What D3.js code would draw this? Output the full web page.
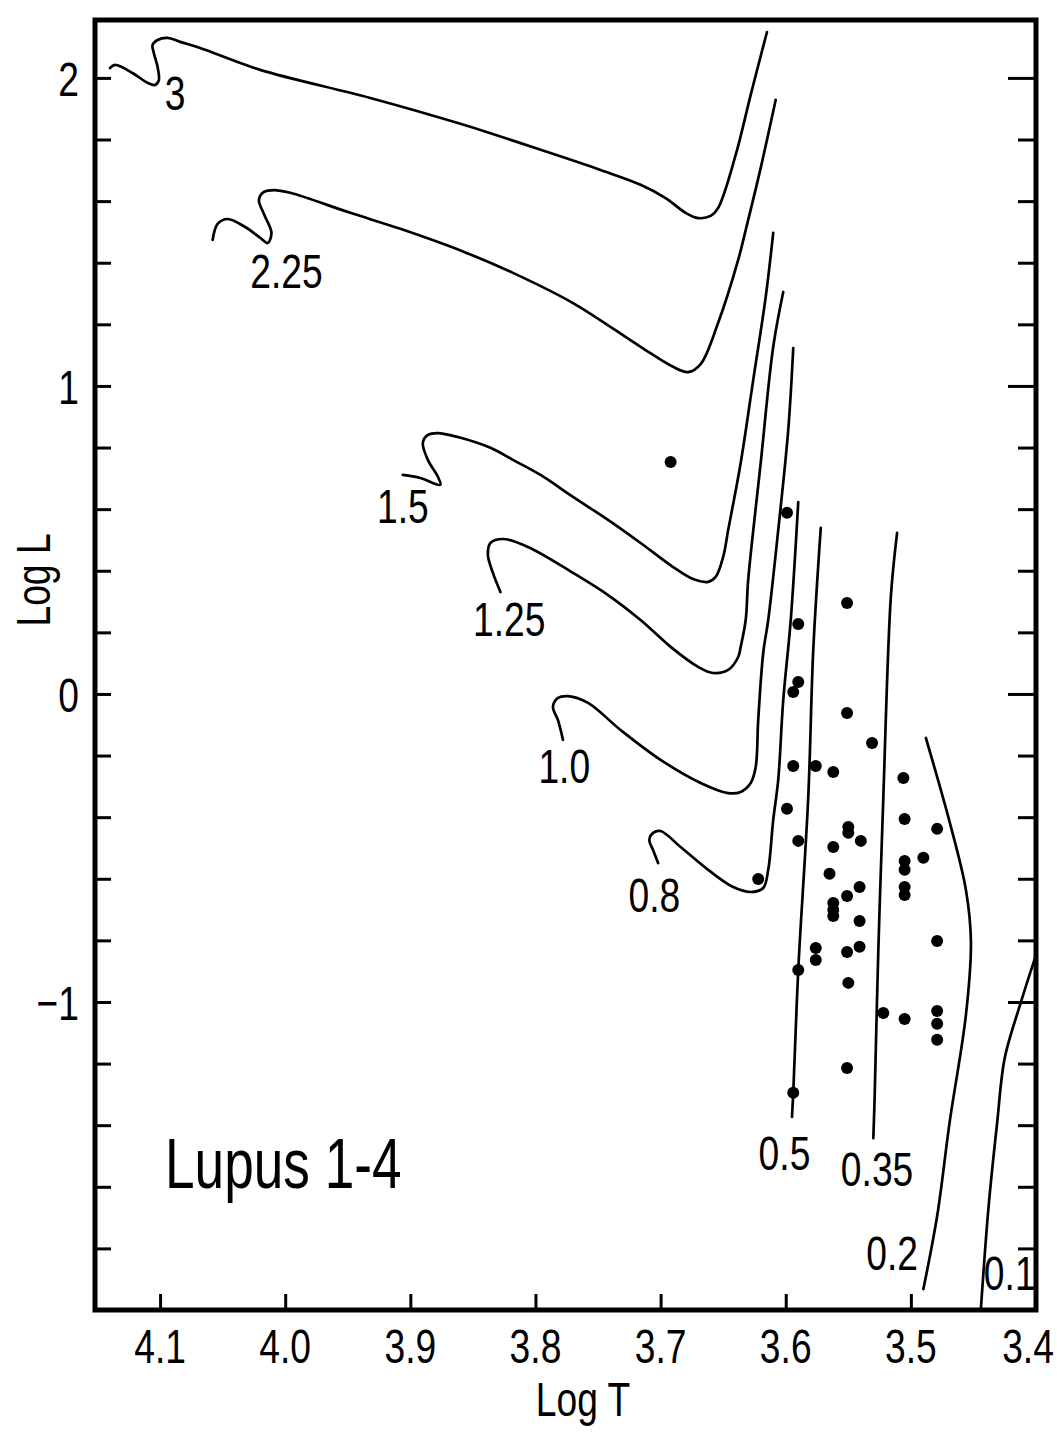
<!DOCTYPE html>
<html><head><meta charset="utf-8">
<script src="https://cdn.jsdelivr.net/npm/d3@7"></script>
<style>html,body{margin:0;padding:0;background:#fff;} svg{display:block;}</style>
</head><body>
<svg id="chart" width="1057" height="1435"></svg>
<script>
// ---------------- DATA (log T, log L) ----------------
const track3 = [[4.140,2.032],[4.136,2.042],[4.122,2.016],[4.110,1.984],[4.104,1.977],[4.101,1.993],[4.102,2.036],[4.105,2.081],[4.106,2.107],[4.102,2.123],[4.094,2.130],[4.084,2.117],[4.068,2.097],[4.020,2.026],[3.932,1.935],[3.860,1.851],[3.788,1.756],[3.748,1.701],[3.716,1.653],[3.696,1.610],[3.680,1.562],[3.670,1.545],[3.660,1.552],[3.654,1.578],[3.640,1.750],[3.628,1.945],[3.615,2.149]];
const track225 = [[4.058,1.474],[4.054,1.526],[4.046,1.542],[4.032,1.516],[4.020,1.481],[4.014,1.464],[4.011,1.497],[4.017,1.558],[4.021,1.604],[4.017,1.630],[4.009,1.636],[3.996,1.627],[3.948,1.562],[3.908,1.510],[3.857,1.435],[3.818,1.367],[3.770,1.269],[3.716,1.127],[3.690,1.062],[3.678,1.045],[3.668,1.071],[3.654,1.205],[3.638,1.409],[3.632,1.506],[3.620,1.708],[3.608,1.929]];
const track15 = [[3.906,0.711],[3.892,0.701],[3.876,0.679],[3.878,0.705],[3.886,0.760],[3.890,0.815],[3.886,0.841],[3.878,0.847],[3.862,0.834],[3.836,0.799],[3.818,0.760],[3.796,0.711],[3.770,0.640],[3.742,0.565],[3.716,0.490],[3.690,0.412],[3.674,0.373],[3.662,0.364],[3.656,0.380],[3.650,0.445],[3.646,0.532],[3.636,0.750],[3.626,1.019],[3.616,1.289],[3.610,1.497]];
const track125 = [[3.828,0.331],[3.834,0.393],[3.838,0.451],[3.836,0.490],[3.826,0.503],[3.806,0.477],[3.770,0.393],[3.742,0.321],[3.716,0.240],[3.692,0.153],[3.670,0.088],[3.658,0.068],[3.646,0.078],[3.638,0.120],[3.636,0.153],[3.632,0.240],[3.630,0.370],[3.620,0.750],[3.610,1.127],[3.602,1.305]];
const track10 = [[3.778,-0.149],[3.782,-0.085],[3.786,-0.042],[3.782,-0.013],[3.774,-0.007],[3.758,-0.029],[3.732,-0.117],[3.700,-0.214],[3.668,-0.289],[3.646,-0.322],[3.636,-0.318],[3.628,-0.289],[3.624,-0.237],[3.622,-0.085],[3.618,0.133],[3.614,0.240],[3.606,0.532],[3.598,0.857],[3.594,1.123]];
const track08 = [[3.702,-0.549],[3.706,-0.507],[3.709,-0.474],[3.706,-0.451],[3.700,-0.445],[3.684,-0.497],[3.662,-0.571],[3.642,-0.627],[3.628,-0.643],[3.618,-0.630],[3.614,-0.571],[3.610,-0.409],[3.606,-0.279],[3.602,-0.020],[3.596,0.240],[3.590,0.623]];
const track05 = [[3.572,0.539],[3.578,0.143],[3.582,-0.334],[3.590,-0.896],[3.594,-1.296],[3.595,-1.373]];
const track035 = [[3.511,0.523],[3.516,0.315],[3.522,-0.334],[3.526,-0.831],[3.529,-1.318],[3.530,-1.442]];
const track02 = [[3.488,-0.143],[3.469,-0.416],[3.456,-0.636],[3.452,-0.805],[3.456,-1.042],[3.469,-1.390],[3.479,-1.695],[3.490,-1.932]];
const track01 = [[3.401,-0.860],[3.412,-1.000],[3.425,-1.182],[3.431,-1.390],[3.438,-1.669],[3.444,-1.994]];
const trackNames = ["3","2.25","1.5","1.25","1.0","0.8","0.5","0.35","0.2","0.1"];

const starLogT = [3.692,3.599,3.551,3.590,3.590,3.594,3.551,3.531,3.594,3.576,3.562,3.506,3.599,3.505,3.479,3.550,3.550,3.540,3.590,3.562,3.490,3.505,3.505,3.565,3.622,3.541,3.505,3.505,3.551,3.562,3.562,3.562,3.541,3.479,3.541,3.551,3.576,3.576,3.590,3.550,3.522,3.505,3.479,3.479,3.479,3.551,3.594];
const starLogL = [0.753,0.588,0.295,0.227,0.039,0.006,-0.062,-0.159,-0.234,-0.234,-0.253,-0.273,-0.373,-0.406,-0.438,-0.432,-0.451,-0.477,-0.477,-0.497,-0.532,-0.542,-0.571,-0.584,-0.601,-0.627,-0.627,-0.653,-0.656,-0.679,-0.701,-0.721,-0.737,-0.802,-0.821,-0.838,-0.825,-0.864,-0.896,-0.938,-1.036,-1.055,-1.029,-1.071,-1.123,-1.214,-1.295];

const xTickValues = [4.1,4.0,3.9,3.8,3.7,3.6,3.5,3.4];
const xTickLabels = ["4.1","4.0","3.9","3.8","3.7","3.6","3.5","3.4"];
const yMajorValues = [2,1,0,-1];
const yMajorLabels = ["2","1","0","\u22121"];
const yMinorValues = [-1.8,-1.6,-1.4,-1.2,-0.8,-0.6,-0.4,-0.2,0.2,0.4,0.6,0.8,1.2,1.4,1.6,1.8];
const titleText = "Lupus 1-4";

// ---------------- LAYOUT ----------------
const W = 1057, H = 1435;
const P = {left:95, right:1036, top:20, bottom:1310};
const x = d3.scaleLinear().domain([4.152,3.4]).range([P.left,P.right]);
const y = d3.scaleLinear().domain([-2.0,2.188]).range([P.bottom,P.top]);
// track label anchor positions (data coords of text baseline centre)
const trackLabelPos = [[4.088,1.896],[3.999,1.318],[3.906,0.555],[3.821,0.188],[3.777,-0.289],[3.705,-0.708],[3.601,-1.545],[3.527,-1.597],[3.515,-1.870],[3.421,-1.935]];

const FONT = "'Liberation Sans', Arial, Helvetica, sans-serif";
const SX = 0.76;

const svg = d3.select("#chart");
svg.append("rect").attr("width",W).attr("height",H).attr("fill","#fff");
svg.append("defs").append("clipPath").attr("id","clip")
  .append("rect").attr("x",P.left).attr("y",P.top).attr("width",P.right-P.left).attr("height",P.bottom-P.top);

function label(px,py,str,size,anchor,rot){
  const g = svg.append("g").attr("transform",`translate(${px},${py}) rotate(${rot||0}) scale(${SX},1)`);
  g.append("text").attr("x",0).attr("y",0).attr("text-anchor",anchor||"middle")
   .attr("font-family",FONT).attr("font-size",size).attr("fill","#000").text(str);
}

// tracks
const tracks = [track3,track225,track15,track125,track10,track08,track05,track035,track02,track01];
const lineGen = d3.line().x(d=>x(d[0])).y(d=>y(d[1])).curve(d3.curveCatmullRom.alpha(0.5));
const tg = svg.append("g").attr("clip-path","url(#clip)");
tracks.forEach(t=>{
  tg.append("path").attr("d",lineGen(t)).attr("fill","none").attr("stroke","#000")
    .attr("stroke-width",2.7).attr("stroke-linejoin","round").attr("stroke-linecap","round");
});

// stars
svg.append("g").selectAll("circle").data(starLogT.map((t,i)=>[t,starLogL[i]])).join("circle")
  .attr("cx",d=>x(d[0])).attr("cy",d=>y(d[1])).attr("r",6).attr("fill","#000");

// axes ticks (inward)
function styleAxis(g){ g.select(".domain").remove(); g.selectAll(".tick line").attr("stroke","#000").attr("stroke-width",3); g.selectAll(".tick text").remove(); }
svg.append("g").attr("transform",`translate(${P.left},0)`)
  .call(d3.axisLeft(y).tickValues(yMajorValues.concat(yMinorValues)).tickSize(-16).tickFormat("")).call(styleAxis);
svg.append("g").attr("transform",`translate(${P.right},0)`)
  .call(d3.axisRight(y).tickValues(yMajorValues).tickSize(-28).tickFormat("")).call(styleAxis);
svg.append("g").attr("transform",`translate(${P.right},0)`)
  .call(d3.axisRight(y).tickValues(yMinorValues).tickSize(-18).tickFormat("")).call(styleAxis);
svg.append("g").attr("transform",`translate(0,${P.bottom})`)
  .call(d3.axisBottom(x).tickValues(xTickValues.slice(0,-1)).tickSize(-16).tickFormat("")).call(styleAxis);

// frame
svg.append("rect").attr("x",P.left).attr("y",P.top).attr("width",P.right-P.left).attr("height",P.bottom-P.top)
  .attr("fill","none").attr("stroke","#000").attr("stroke-width",5);

// tick labels
xTickValues.forEach((v,i)=>{
  let px = x(v); if (i===xTickValues.length-1) px -= 8;
  label(px, P.bottom+53, xTickLabels[i], 49, "middle");
});
yMajorValues.forEach((v,i)=>{ label(P.left-16, y(v)+18, yMajorLabels[i], 49, "end"); });

// axis titles
label(583, 1416, "Log T", 49, "middle");
label(50, 580, "Log L", 49, "middle", -90);

// track labels
trackNames.forEach((n,i)=>{ label(x(trackLabelPos[i][0]), y(trackLabelPos[i][1]), n, 49, "middle"); });

// title
label(165, 1188, titleText, 70, "start");
</script>
</body></html>
